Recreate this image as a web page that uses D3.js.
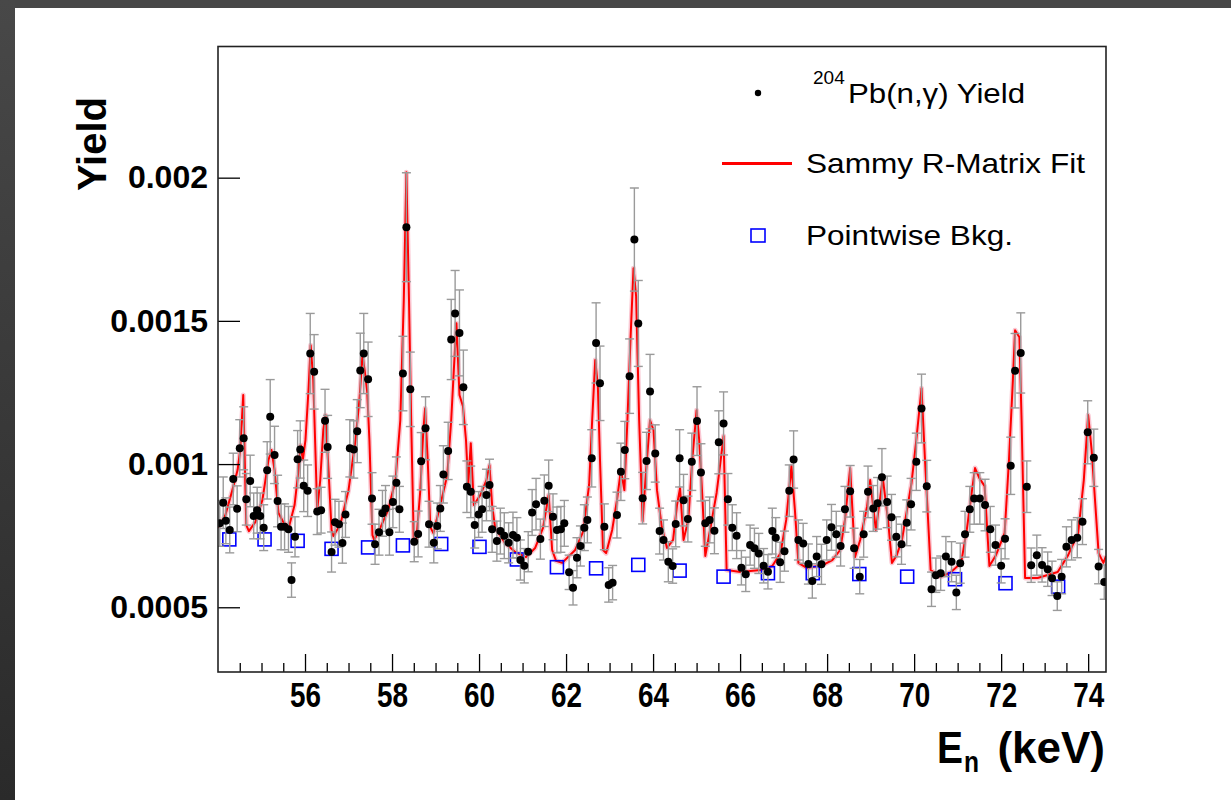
<!DOCTYPE html>
<html>
<head>
<meta charset="utf-8">
<script src="https://cdn.jsdelivr.net/npm/d3@7"></script>
<style>
  body { margin: 0; background: #fff; }
  svg { display: block; }
</style>
</head>
<body>
<script>
// measured 204Pb(n,g) yield: [E (keV), yield, error]
var yieldPoints = [
  [54.04,0.000793,0.00008],[54.12,0.000865,0.00009],[54.18,0.000802,0.00008],[54.27,0.000770,0.00008],
  [54.35,0.000948,0.00009],[54.44,0.000844,0.00008],[54.50,0.001055,0.00010],[54.59,0.001090,0.00011],
  [54.65,0.000877,0.00009],[54.74,0.000941,0.00009],[54.82,0.000819,0.00008],[54.90,0.000839,0.00008],
  [54.97,0.000819,0.00008],[55.05,0.000778,0.00008],[55.13,0.000978,0.00010],[55.20,0.001165,0.00013],
  [55.30,0.001032,0.00010],[55.37,0.000871,0.00009],[55.45,0.000781,0.00008],[55.53,0.000781,0.00008],
  [55.62,0.000772,0.00008],[55.69,0.000595,0.00006],[55.77,0.000746,0.00007],[55.83,0.001017,0.00010],
  [55.89,0.001051,0.00010],[55.97,0.000924,0.00009],[56.06,0.000907,0.00009],[56.12,0.001386,0.00014],
  [56.21,0.001322,0.00013],[56.28,0.000834,0.00008],[56.37,0.000839,0.00008],[56.46,0.001151,0.00011],
  [56.52,0.001060,0.00011],[56.61,0.000693,0.00007],[56.69,0.000797,0.00008],[56.78,0.000790,0.00008],
  [56.86,0.000724,0.00007],[56.93,0.000824,0.00008],[57.03,0.001055,0.00010],[57.12,0.001051,0.00010],
  [57.20,0.001115,0.00011],[57.27,0.001327,0.00013],[57.35,0.001386,0.00014],[57.45,0.001296,0.00013],
  [57.54,0.000880,0.00009],[57.61,0.000720,0.00007],[57.70,0.000762,0.00008],[57.78,0.000828,0.00008],
  [57.85,0.000845,0.00008],[57.94,0.000762,0.00008],[58.02,0.000868,0.00009],[58.10,0.000935,0.00009],
  [58.17,0.000842,0.00008],[58.25,0.001316,0.00013],[58.33,0.001827,0.00019],[58.42,0.001261,0.00013],
  [58.51,0.000729,0.00007],[58.60,0.000756,0.00008],[58.67,0.001010,0.00010],[58.77,0.001125,0.00011],
  [58.85,0.000790,0.00008],[58.96,0.000725,0.00007],[59.04,0.000784,0.00008],[59.11,0.000845,0.00008],
  [59.18,0.000964,0.00010],[59.29,0.001046,0.00010],[59.36,0.001435,0.00014],[59.45,0.001526,0.00015],
  [59.55,0.001458,0.00015],[59.64,0.001268,0.00013],[59.72,0.000921,0.00009],[59.81,0.000903,0.00009],
  [59.90,0.000787,0.00008],[59.99,0.000824,0.00008],[60.07,0.000842,0.00008],[60.17,0.000892,0.00009],
  [60.24,0.000927,0.00009],[60.30,0.000772,0.00008],[60.41,0.000731,0.00007],[60.49,0.000766,0.00008],
  [60.58,0.000750,0.00008],[60.68,0.000725,0.00007],[60.78,0.000752,0.00008],[60.87,0.000743,0.00007],
  [60.95,0.000665,0.00007],[61.04,0.000645,0.00006],[61.13,0.000694,0.00007],[61.22,0.000831,0.00008],
  [61.31,0.000860,0.00009],[61.41,0.000738,0.00007],[61.50,0.000872,0.00009],[61.60,0.000924,0.00009],
  [61.70,0.000816,0.00008],[61.79,0.000770,0.00008],[61.88,0.000772,0.00008],[61.96,0.000793,0.00008],
  [62.07,0.000622,0.00006],[62.16,0.000568,0.00006],[62.25,0.000673,0.00007],[62.33,0.000714,0.00007],
  [62.42,0.000778,0.00008],[62.49,0.000805,0.00008],[62.59,0.001020,0.00010],[62.69,0.001423,0.00014],
  [62.78,0.001282,0.00013],[62.88,0.000781,0.00008],[62.98,0.000578,0.00006],[63.07,0.000586,0.00006],
  [63.17,0.000822,0.00008],[63.26,0.000973,0.00010],[63.35,0.001049,0.00010],[63.46,0.001307,0.00013],
  [63.57,0.001784,0.00018],[63.66,0.001491,0.00015],[63.76,0.000881,0.00009],[63.85,0.001011,0.00010],
  [63.93,0.001253,0.00013],[64.05,0.001037,0.00010],[64.15,0.000766,0.00008],[64.24,0.000735,0.00007],
  [64.35,0.000659,0.00007],[64.45,0.000644,0.00006],[64.52,0.000791,0.00008],[64.61,0.001020,0.00010],
  [64.70,0.000874,0.00009],[64.80,0.000808,0.00008],[64.89,0.001008,0.00010],[65.01,0.001150,0.00012],
  [65.10,0.000971,0.00010],[65.20,0.000793,0.00008],[65.30,0.000805,0.00008],[65.41,0.000767,0.00008],
  [65.51,0.001076,0.00011],[65.62,0.001142,0.00011],[65.72,0.000877,0.00009],[65.82,0.000778,0.00008],
  [65.92,0.000750,0.00008],[66.03,0.000638,0.00006],[66.13,0.000615,0.00006],[66.23,0.000717,0.00007],
  [66.33,0.000706,0.00007],[66.43,0.000688,0.00007],[66.54,0.000645,0.00006],[66.64,0.000624,0.00006],
  [66.74,0.000766,0.00008],[66.82,0.000743,0.00007],[66.92,0.000657,0.00007],[67.02,0.000696,0.00007],
  [67.13,0.000907,0.00009],[67.23,0.001016,0.00010],[67.34,0.000735,0.00007],[67.45,0.000723,0.00007],
  [67.57,0.000651,0.00007],[67.66,0.000592,0.00006],[67.76,0.000677,0.00007],[67.87,0.000650,0.00007],
  [67.99,0.000735,0.00007],[68.10,0.000779,0.00008],[68.21,0.000755,0.00008],[68.31,0.000714,0.00007],
  [68.41,0.000842,0.00008],[68.53,0.000905,0.00009],[68.62,0.000706,0.00007],[68.75,0.000607,0.00006],
  [68.84,0.000755,0.00008],[68.94,0.000903,0.00009],[69.06,0.000845,0.00008],[69.16,0.000863,0.00009],
  [69.26,0.000954,0.00010],[69.38,0.000868,0.00009],[69.48,0.000814,0.00008],[69.59,0.000746,0.00007],
  [69.71,0.000720,0.00007],[69.83,0.000795,0.00008],[69.93,0.000860,0.00009],[70.05,0.001008,0.00010],
  [70.17,0.001194,0.00012],[70.29,0.000923,0.00009],[70.40,0.000563,0.00006],[70.50,0.000612,0.00006],
  [70.61,0.000619,0.00006],[70.73,0.000677,0.00007],[70.86,0.000659,0.00007],[70.97,0.000552,0.00006],
  [71.06,0.000654,0.00007],[71.17,0.000755,0.00008],[71.28,0.000842,0.00008],[71.38,0.000880,0.00009],
  [71.51,0.000880,0.00009],[71.63,0.000857,0.00009],[71.75,0.000772,0.00008],[71.87,0.000717,0.00007],
  [72.00,0.000645,0.00006],[72.09,0.000739,0.00007],[72.22,0.000994,0.00010],[72.32,0.001326,0.00013],
  [72.45,0.001388,0.00014],[72.59,0.000921,0.00009],[72.69,0.000647,0.00006],[72.82,0.000682,0.00007],
  [72.94,0.000648,0.00006],[73.07,0.000633,0.00006],[73.17,0.000601,0.00006],[73.29,0.000539,0.00005],
  [73.39,0.000607,0.00006],[73.50,0.000711,0.00007],[73.62,0.000735,0.00007],[73.75,0.000743,0.00007],
  [73.87,0.000799,0.00008],[73.99,0.001111,0.00011],[74.13,0.001022,0.00010],[74.24,0.000642,0.00006],
  [74.37,0.000588,0.00006]
];

// SAMMY R-matrix fit curve: [E (keV), yield]
var fitCurve = [
  [54.01,0.000777],[54.17,0.000822],[54.33,0.000909],[54.45,0.000979],[54.51,0.001049],[54.58,0.001241],
  [54.65,0.000787],[54.71,0.000766],[54.86,0.000798],[55.02,0.000874],[55.16,0.001014],[55.23,0.001049],
  [55.30,0.000979],[55.39,0.000829],[55.50,0.000798],[55.63,0.000780],[55.76,0.000857],[55.85,0.000979],
  [55.90,0.001066],[55.95,0.001014],[56.01,0.001084],[56.08,0.001258],[56.13,0.001415],[56.19,0.001293],
  [56.28,0.000839],[56.35,0.000944],[56.42,0.001119],[56.47,0.001171],[56.54,0.000979],[56.61,0.000770],
  [56.65,0.000749],[56.81,0.000787],[57.00,0.000909],[57.16,0.001084],[57.25,0.001223],[57.32,0.001380],
  [57.37,0.001328],[57.43,0.001251],[57.48,0.001084],[57.55,0.000752],[57.59,0.000735],[57.73,0.000777],
  [57.91,0.000839],[58.08,0.000944],[58.19,0.001153],[58.27,0.001572],[58.33,0.002019],[58.39,0.001572],
  [58.44,0.001153],[58.50,0.000724],[58.56,0.000735],[58.65,0.000909],[58.72,0.001119],[58.76,0.001195],
  [58.82,0.001014],[58.88,0.000780],[58.95,0.000759],[59.11,0.000857],[59.27,0.000962],[59.36,0.001153],
  [59.42,0.001328],[59.48,0.001492],[59.55,0.001241],[59.63,0.001202],[59.70,0.001084],[59.75,0.000927],
  [59.81,0.001073],[59.88,0.000857],[60.03,0.000892],[60.17,0.000944],[60.24,0.000996],[60.30,0.000857],
  [60.37,0.000777],[60.60,0.000724],[60.83,0.000693],[61.08,0.000675],[61.29,0.000707],[61.47,0.000777],
  [61.60,0.000892],[61.68,0.000700],[61.77,0.000662],[61.91,0.000655],[62.21,0.000700],[62.39,0.000763],
  [62.53,0.000927],[62.60,0.001153],[62.67,0.001363],[62.73,0.001276],[62.78,0.001014],[62.85,0.000700],
  [62.92,0.000689],[63.06,0.000770],[63.17,0.000874],[63.26,0.000979],[63.34,0.000909],[63.41,0.001153],
  [63.48,0.001433],[63.55,0.001684],[63.61,0.001586],[63.68,0.001153],[63.76,0.000801],[63.84,0.000979],
  [63.93,0.001153],[64.01,0.001119],[64.09,0.000909],[64.20,0.000780],[64.32,0.000707],[64.46,0.000735],
  [64.55,0.000857],[64.62,0.000916],[64.70,0.000735],[64.81,0.000805],[64.90,0.001014],[65.00,0.001188],
  [65.06,0.001084],[65.13,0.000892],[65.20,0.000679],[65.31,0.000770],[65.46,0.000899],[65.54,0.000996],
  [65.62,0.001098],[65.69,0.000630],[66.01,0.000623],[66.47,0.000630],[66.74,0.000644],[66.93,0.000689],
  [67.06,0.000805],[67.18,0.000993],[67.26,0.000839],[67.34,0.000655],[67.54,0.000637],[67.91,0.000648],
  [68.12,0.000665],[68.30,0.000700],[68.41,0.000805],[68.53,0.000986],[68.64,0.000675],[68.76,0.000735],
  [68.92,0.000853],[68.99,0.000944],[69.12,0.000770],[69.28,0.000951],[69.40,0.000805],[69.49,0.000655],
  [69.60,0.000682],[69.72,0.000735],[69.94,0.000934],[70.05,0.001084],[70.17,0.001265],[70.25,0.001014],
  [70.38,0.000630],[70.61,0.000606],[70.85,0.000623],[71.08,0.000655],[71.21,0.000770],[71.30,0.000874],
  [71.40,0.000986],[71.50,0.000951],[71.62,0.000923],[71.73,0.000644],[71.88,0.000682],[72.08,0.000759],
  [72.18,0.001014],[72.27,0.001293],[72.32,0.001467],[72.42,0.001443],[72.47,0.001153],[72.55,0.000602],
  [72.84,0.000602],[73.30,0.000623],[73.54,0.000682],[73.77,0.000759],[73.90,0.000944],[74.00,0.001171],
  [74.08,0.001049],[74.24,0.000689],[74.35,0.000655],[74.41,0.000679]
];

// pointwise background: [E (keV), yield]
var bkgPoints = [
  [54.26,0.000737],[55.07,0.000737],[55.83,0.000732],[56.61,0.000704],[57.45,0.000709],
  [58.25,0.000716],[59.13,0.000721],[60.01,0.000711],[60.87,0.000667],[61.79,0.000640],
  [62.69,0.000636],[63.66,0.000648],[64.61,0.000628],[65.62,0.000607],[66.64,0.000619],
  [67.67,0.000619],[68.74,0.000616],[69.84,0.000607],[70.94,0.000598],[72.10,0.000584],
  [73.31,0.000572]
];

// axis ticks
var xMajorTicks = [56, 58, 60, 62, 64, 66, 68, 70, 72, 74];
var yTickValues = [0.0005, 0.001, 0.0015, 0.002];
var yTickLabels = ["0.0005", "0.001", "0.0015", "0.002"];

// set the dimensions of the frame
var W = 1231, H = 800;
var frame = {left: 218, top: 46.5, right: 1106, bottom: 672};
var width = frame.right - frame.left,
    height = frame.bottom - frame.top;

// set the ranges
var x = d3.scaleLinear().domain([54, 74.41]).range([0, width]);
var y = d3.scaleLinear().domain([0.000274, 0.002458]).range([height, 0]);

var svg = d3.select("body").append("svg")
    .attr("width", W)
    .attr("height", H);

// dark slide border, top and left
var defs = svg.append("defs");
var grad = defs.append("linearGradient")
    .attr("id", "edge").attr("x1", 0).attr("y1", 0).attr("x2", 0).attr("y2", 1);
grad.append("stop").attr("offset", "0%").attr("stop-color", "#484848");
grad.append("stop").attr("offset", "100%").attr("stop-color", "#2a2a2a");

svg.append("rect").attr("width", W).attr("height", H).attr("fill", "#fff");
svg.append("rect").attr("width", W).attr("height", 8).attr("fill", "#474747");
svg.append("rect").attr("width", 15).attr("height", H).attr("fill", "url(#edge)");

defs.append("clipPath").attr("id", "plotclip")
  .append("rect").attr("width", width).attr("height", height);

var g = svg.append("g")
    .attr("transform", "translate(" + frame.left + "," + frame.top + ")");

var marks = g.append("g").attr("clip-path", "url(#plotclip)");

// fit line, with a soft pink halo
var fitLine = d3.line()
    .x(function(d) { return x(d[0]); })
    .y(function(d) { return y(d[1]); });

marks.append("path")
    .datum(fitCurve)
    .attr("d", fitLine)
    .attr("fill", "none")
    .attr("stroke", "#f06080")
    .attr("stroke-opacity", 0.35)
    .attr("stroke-width", 5)
    .attr("stroke-linejoin", "round");

marks.append("path")
    .datum(fitCurve)
    .attr("d", fitLine)
    .attr("fill", "none")
    .attr("stroke", "#ff0000")
    .attr("stroke-width", 2)
    .attr("stroke-linejoin", "round");

// background squares
var sq = 13;
marks.selectAll(".bkg")
    .data(bkgPoints)
  .enter().append("rect")
    .attr("class", "bkg")
    .attr("x", function(d) { return x(d[0]) - sq / 2; })
    .attr("y", function(d) { return y(d[1]) - sq / 2; })
    .attr("width", sq)
    .attr("height", sq)
    .attr("fill", "none")
    .attr("stroke", "#0000ff")
    .attr("stroke-width", 1.6);

// error bars
var cap = 4.5;
var bars = marks.selectAll(".err")
    .data(yieldPoints)
  .enter().append("g")
    .attr("class", "err")
    .attr("stroke", "#9a9a9a")
    .attr("stroke-width", 1.4);

bars.append("line")
    .attr("x1", function(d) { return x(d[0]); })
    .attr("x2", function(d) { return x(d[0]); })
    .attr("y1", function(d) { return y(d[1] - d[2]); })
    .attr("y2", function(d) { return y(d[1] + d[2]); });
bars.append("line")
    .attr("x1", function(d) { return x(d[0]) - cap; })
    .attr("x2", function(d) { return x(d[0]) + cap; })
    .attr("y1", function(d) { return y(d[1] + d[2]); })
    .attr("y2", function(d) { return y(d[1] + d[2]); });
bars.append("line")
    .attr("x1", function(d) { return x(d[0]) - cap; })
    .attr("x2", function(d) { return x(d[0]) + cap; })
    .attr("y1", function(d) { return y(d[1] - d[2]); })
    .attr("y2", function(d) { return y(d[1] - d[2]); });

// data points
marks.selectAll(".dot")
    .data(yieldPoints)
  .enter().append("circle")
    .attr("class", "dot")
    .attr("cx", function(d) { return x(d[0]); })
    .attr("cy", function(d) { return y(d[1]); })
    .attr("r", 4)
    .attr("fill", "#000");

// Add the X Axis (ticks point inward)
var minorTicks = d3.range(54.5, 74.01, 0.5).filter(function(v) { return v % 2 !== 0; });

g.append("g")
    .attr("transform", "translate(0," + height + ")")
    .call(d3.axisBottom(x).tickValues(minorTicks).tickSize(-9).tickFormat(""))
    .call(function(a) { a.select(".domain").remove(); });

var xAxis = g.append("g")
    .attr("transform", "translate(0," + height + ")")
    .call(d3.axisBottom(x).tickValues(xMajorTicks).tickSize(-18).tickPadding(10).tickFormat(d3.format("d")));
xAxis.select(".domain").remove();
xAxis.selectAll("text")
    .attr("fill", "#000")
    .attr("textLength", 31)
    .attr("lengthAdjust", "spacingAndGlyphs")
    .style("font-family", "'Liberation Sans', Arial, sans-serif")
    .style("font-weight", "bold")
    .style("font-size", "35px");

// Add the Y Axis
var yAxis = g.append("g")
    .call(d3.axisLeft(y).tickValues(yTickValues).tickSize(-22).tickPadding(10)
      .tickFormat(function(d, i) { return yTickLabels[i]; }));
yAxis.select(".domain").remove();
yAxis.selectAll("text")
    .attr("fill", "#000")
    .style("font-family", "'Liberation Sans', Arial, sans-serif")
    .style("font-weight", "bold")
    .style("font-size", "32px");

g.selectAll(".tick line").attr("stroke", "#000").attr("stroke-width", 1.3);

// frame
g.append("rect")
    .attr("width", width)
    .attr("height", height)
    .attr("fill", "none")
    .attr("stroke", "#222")
    .attr("stroke-width", 1.6);

// axis titles: E_n (keV), built from three pieces
var titleFont = "'Liberation Sans', Arial, sans-serif";
svg.append("text")
    .attr("x", 937).attr("y", 763)
    .attr("textLength", 26).attr("lengthAdjust", "spacingAndGlyphs")
    .style("font-family", titleFont).style("font-weight", "bold").style("font-size", "44px")
    .text("E");
svg.append("text")
    .attr("x", 964).attr("y", 772)
    .attr("textLength", 15).attr("lengthAdjust", "spacingAndGlyphs")
    .style("font-family", titleFont).style("font-weight", "bold").style("font-size", "30px")
    .text("n");
svg.append("text")
    .attr("x", 1105).attr("y", 763)
    .attr("text-anchor", "end")
    .style("font-family", titleFont).style("font-weight", "bold").style("font-size", "44px")
    .text("(keV)");

svg.append("text")
    .attr("transform", "translate(106,97) rotate(-90)")
    .attr("text-anchor", "end")
    .style("font-family", titleFont)
    .style("font-weight", "bold")
    .style("font-size", "40px")
    .text("Yield");

// legend
var legFont = "'Liberation Sans', Arial, sans-serif";
var leg = svg.append("g");

leg.append("circle").attr("cx", 758).attr("cy", 93).attr("r", 3.2).attr("fill", "#000");
leg.append("text")
    .attr("x", 813).attr("y", 84)
    .style("font-family", legFont).style("font-size", "19px")
    .text("204");
leg.append("text")
    .attr("x", 848).attr("y", 103)
    .attr("textLength", 177).attr("lengthAdjust", "spacingAndGlyphs")
    .style("font-family", legFont).style("font-size", "28px")
    .text("Pb(n,\u03b3) Yield");

leg.append("line")
    .attr("x1", 722).attr("x2", 792).attr("y1", 163.5).attr("y2", 163.5)
    .attr("stroke", "#ff0000").attr("stroke-width", 3);
leg.append("text")
    .attr("x", 806).attr("y", 173)
    .attr("textLength", 279).attr("lengthAdjust", "spacingAndGlyphs")
    .style("font-family", legFont).style("font-size", "28px")
    .text("Sammy R-Matrix Fit");

leg.append("rect")
    .attr("x", 751).attr("y", 229).attr("width", 14).attr("height", 13)
    .attr("fill", "none").attr("stroke", "#0000ff").attr("stroke-width", 1.6);
leg.append("text")
    .attr("x", 806).attr("y", 245)
    .attr("textLength", 207).attr("lengthAdjust", "spacingAndGlyphs")
    .style("font-family", legFont).style("font-size", "28px")
    .text("Pointwise Bkg.");
</script>
</body>
</html>
